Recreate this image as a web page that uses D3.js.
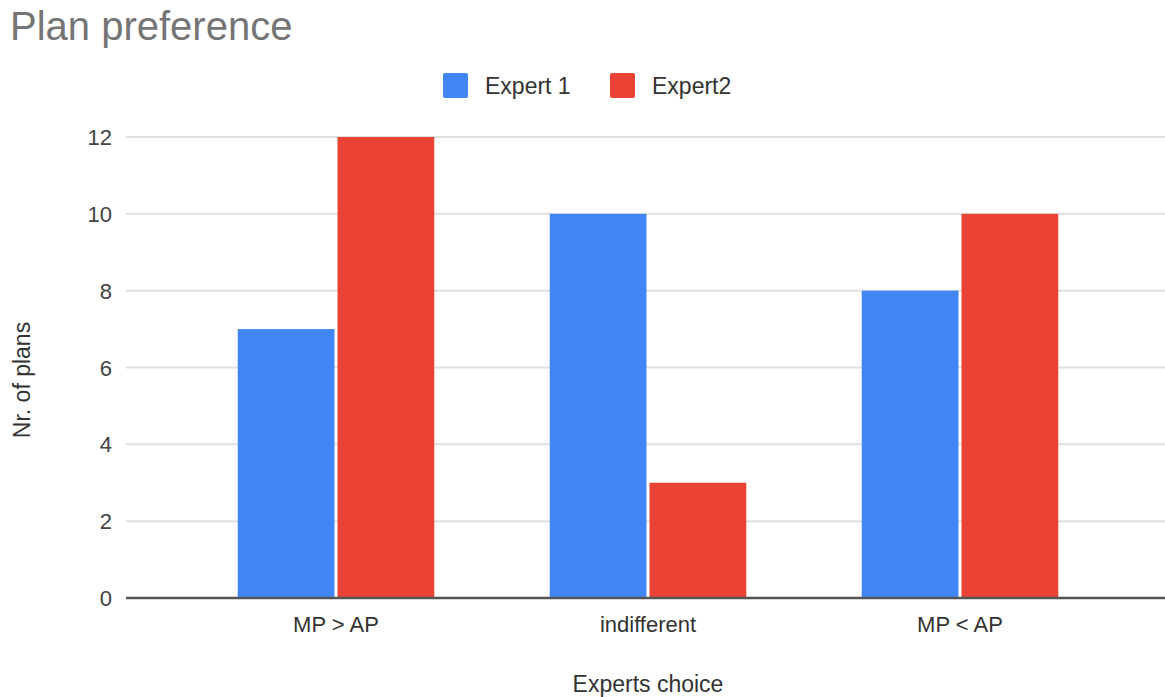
<!DOCTYPE html>
<html>
<head>
<meta charset="utf-8">
<script src="https://cdn.jsdelivr.net/npm/d3@7"></script>
<style>
  html, body { margin: 0; padding: 0; background: #fff; }
  svg { display: block; font-family: Arial, "Liberation Sans", sans-serif; }
</style>
</head>
<body>
<svg id="chart" width="1165" height="697"></svg>
<script>
// Chart data
const categories = ["MP > AP", "indifferent", "MP < AP"];
const seriesNames = ["Expert 1", "Expert2"];
const expert1 = [7, 10, 8];
const expert2 = [12, 3, 10];
const yTicks = [0, 2, 4, 6, 8, 10, 12];
const colors = ["#4285F4", "#EA4335"];

const svg = d3.select("#chart");

// Plot area
const plotLeft = 126, plotRight = 1168;
const y = d3.scaleLinear().domain([0, 12]).range([598, 137]);
const x0 = d3.scaleBand().domain(categories).range([180, 1116])
  .paddingInner(0.37).paddingOuter(0.185);
const x1 = d3.scaleBand().domain(seriesNames).range([0, x0.bandwidth()])
  .paddingInner(0.03);

// Title
svg.append("text")
  .attr("x", 10).attr("y", 40)
  .attr("font-size", 40).attr("fill", "#757575")
  .text("Plan preference");

// Legend
const legend = svg.append("g");
const legendItems = [
  { name: seriesNames[0], color: colors[0], x: 443 },
  { name: seriesNames[1], color: colors[1], x: 610 }
];
legendItems.forEach(d => {
  legend.append("rect")
    .attr("x", d.x).attr("y", 73).attr("width", 25).attr("height", 25)
    .attr("rx", 2).attr("fill", d.color);
  legend.append("text")
    .attr("x", d.x + 42).attr("y", 94)
    .attr("font-size", 23).attr("fill", "#333")
    .text(d.name);
});

// Gridlines and y tick labels
const grid = svg.append("g");
grid.selectAll("line").data(yTicks.filter(t => t !== 0)).join("line")
  .attr("x1", plotLeft).attr("x2", plotRight)
  .attr("y1", d => y(d)).attr("y2", d => y(d))
  .attr("stroke", "#e0e0e0").attr("stroke-width", 2);

svg.append("g").selectAll("text").data(yTicks).join("text")
  .attr("x", 112).attr("y", d => y(d) + 8)
  .attr("text-anchor", "end")
  .attr("font-size", 22).attr("fill", "#444")
  .text(d => d);

// Bars
const series = [expert1, expert2];
const groups = svg.append("g").selectAll("g").data(categories).join("g")
  .attr("transform", d => `translate(${x0(d)},0)`);
groups.selectAll("rect")
  .data((c, i) => seriesNames.map((s, k) => ({ s, v: series[k][i], color: colors[k] })))
  .join("rect")
  .attr("x", d => x1(d.s))
  .attr("width", x1.bandwidth())
  .attr("y", d => y(d.v))
  .attr("height", d => y(0) - y(d.v))
  .attr("fill", d => d.color);

// Baseline
svg.append("line")
  .attr("x1", plotLeft).attr("x2", plotRight)
  .attr("y1", y(0)).attr("y2", y(0))
  .attr("stroke", "#555").attr("stroke-width", 2.5);

// X axis labels
const xAxis = d3.axisBottom(x0).tickSize(0).tickPadding(0);
const xg = svg.append("g").attr("transform", `translate(0,${y(0)})`).call(xAxis);
xg.select(".domain").remove();
xg.selectAll("text")
  .attr("y", 34).attr("dy", 0)
  .attr("font-size", 22).attr("fill", "#333")
  .attr("font-family", "Arial, 'Liberation Sans', sans-serif");

// Axis titles
svg.append("text")
  .attr("x", 648).attr("y", 692)
  .attr("text-anchor", "middle")
  .attr("font-size", 23).attr("fill", "#333")
  .text("Experts choice");

svg.append("text")
  .attr("transform", "translate(30,380) rotate(-90)")
  .attr("text-anchor", "middle")
  .attr("font-size", 23).attr("fill", "#333")
  .text("Nr. of plans");
</script>
</body>
</html>
